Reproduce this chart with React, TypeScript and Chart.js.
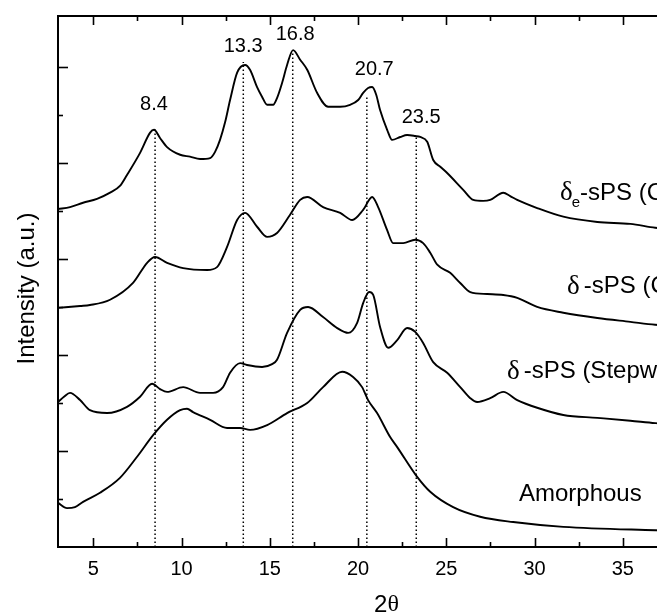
import React, { useEffect, useRef } from "react";
import { Chart, registerables } from "chart.js";

Chart.register(...registerables);

const W = 720;
const H = 615;
const FONT = '"Liberation Sans", Arial, Helvetica, sans-serif';
const SERIF = '"Liberation Serif", "DejaVu Serif", "Times New Roman", serif';

// ---- data: [2θ, intensity (a.u., stacked)] ----
const deltaE: [number, number][] = [
  [3.0, 7.04], [3.68, 7.08], [4.42, 7.17], [5.21, 7.25], [5.95, 7.38], [6.51, 7.52], [6.91, 7.75],
  [7.65, 8.21], [8.22, 8.63], [8.44, 8.69], [8.78, 8.52], [9.18, 8.33], [9.92, 8.17], [10.48, 8.13],
  [11.05, 8.08], [11.62, 8.1], [11.9, 8.23], [12.18, 8.48], [12.47, 8.85], [12.75, 9.31], [13.15, 9.88],
  [13.6, 10.04], [13.88, 9.94], [14.28, 9.58], [14.56, 9.38], [14.85, 9.21], [15.19, 9.21], [15.41, 9.35],
  [15.7, 9.67], [15.98, 10.04], [16.32, 10.35], [16.72, 10.15], [17.12, 9.94], [17.68, 9.46], [18.31, 9.17],
  [18.99, 9.17], [19.55, 9.21], [20.01, 9.31], [20.29, 9.46], [20.57, 9.56], [20.8, 9.58], [21.03, 9.42],
  [21.25, 9.1], [21.65, 8.69], [21.93, 8.48], [22.39, 8.54], [22.78, 8.58], [23.24, 8.56], [23.52, 8.54],
  [23.92, 8.44], [24.26, 8.06], [24.66, 7.92], [25.05, 7.79], [25.96, 7.44], [26.53, 7.23], [27.09, 7.21],
  [27.49, 7.23], [28.23, 7.38], [28.62, 7.31], [29.02, 7.23], [30.15, 7.06], [31.63, 6.88], [33.56, 6.77],
  [35.43, 6.73], [36.84, 6.65], [40.0, 6.55],
];

const deltaC: [number, number][] = [
  [3.0, 4.98], [4.25, 5.02], [4.81, 5.04], [5.95, 5.15], [7.25, 5.5], [8.05, 5.92], [8.5, 6.04],
  [9.18, 5.92], [10.09, 5.81], [11.45, 5.77], [12.01, 5.83], [12.58, 6.25], [13.15, 6.81], [13.6, 6.96],
  [14.28, 6.67], [14.85, 6.46], [15.41, 6.54], [16.15, 6.92], [16.72, 7.23], [17.12, 7.29], [18.02, 7.08],
  [18.99, 6.96], [19.67, 6.81], [20.29, 7.02], [20.8, 7.29], [21.14, 7.08], [21.65, 6.6], [21.99, 6.33],
  [22.56, 6.33], [23.24, 6.4], [23.69, 6.33], [24.09, 6.13], [24.49, 5.88], [25.22, 5.71], [25.79, 5.5],
  [26.36, 5.31], [27.32, 5.27], [28.23, 5.25], [29.02, 5.19], [30.15, 5.0], [31.63, 4.88], [33.56, 4.77],
  [35.43, 4.69], [36.84, 4.63], [40.0, 4.55],
];

const deltaStep: [number, number][] = [
  [3.0, 3.02], [3.34, 3.13], [3.68, 3.21], [4.25, 3.06], [4.81, 2.85], [5.78, 2.79], [6.91, 2.92],
  [7.65, 3.13], [8.33, 3.4], [8.78, 3.29], [9.18, 3.23], [10.09, 3.33], [11.05, 3.21], [11.79, 3.21],
  [12.35, 3.33], [12.75, 3.63], [13.32, 3.83], [13.71, 3.79], [14.56, 3.75], [15.13, 3.81], [15.41, 3.9],
  [15.98, 4.46], [16.72, 4.94], [17.17, 5.0], [18.02, 4.79], [18.82, 4.56], [19.44, 4.46], [19.95, 4.67],
  [20.29, 5.08], [20.63, 5.31], [20.86, 5.25], [21.25, 4.58], [21.71, 4.15], [22.22, 4.31], [22.78, 4.56],
  [23.24, 4.48], [23.69, 4.25], [24.26, 3.85], [25.05, 3.63], [25.79, 3.33], [26.36, 3.1], [26.75, 3.02],
  [27.49, 3.1], [28.23, 3.23], [29.02, 3.06], [30.15, 2.9], [31.63, 2.75], [33.56, 2.69], [35.43, 2.63],
  [36.84, 2.58], [40.0, 2.5],
];

const amorphous: [number, number][] = [
  [3.0, 0.92], [3.51, 0.81], [3.96, 0.83], [4.42, 0.94], [5.38, 1.13], [6.51, 1.44], [7.48, 1.88],
  [8.39, 2.33], [9.18, 2.65], [9.92, 2.85], [10.31, 2.88], [10.65, 2.81], [11.62, 2.65], [12.58, 2.48],
  [13.32, 2.48], [13.88, 2.44], [14.85, 2.54], [15.98, 2.79], [17.12, 3.0], [18.02, 3.33], [19.1, 3.65],
  [19.72, 3.54], [20.23, 3.33], [20.57, 3.06], [21.08, 2.79], [21.82, 2.29], [22.22, 2.08], [23.35, 1.46],
  [24.09, 1.15], [25.39, 0.83], [26.92, 0.63], [28.79, 0.52], [31.63, 0.42], [36.84, 0.35], [40.0, 0.32],
];

// peak markers
const peakPositions = [8.5, 13.5, 16.3, 20.5, 23.3];
const peakLineTops = [8.75, 10.1, 10.31, 9.375, 8.54];
const peakLabels = ["8.4", "13.3", "16.8", "20.7", "23.5"];
const peakLabelX = [8.44, 13.49, 16.44, 20.92, 23.58];
const peakLabelY = [9.21, 10.42, 10.67, 9.94, 8.94];

// curve labels
const curveLabelSub = ["e", "", "", ""];
const curveLabelText = ["-sPS (Clathrate)", "-sPS (Chloroform)", "-sPS (Stepwise)", "Amorphous"];
const curveLabelDelta = [true, true, true, false];
const curveLabelX = [31.44, 31.84, 28.44, 29.12];
const curveLabelY = [7.375, 5.42, 3.65, 1.1];

// axes
const xMin = 3;
const xMax = 40;
const yMin = 0;
const yMax = 11.06;
const xLabelTicks = [5, 10, 15, 20, 25, 30, 35];
const xMajorTicks = [5, 10, 15, 20, 25, 30, 35, 40];
const xMinorTicks = [7.5, 12.5, 17.5, 22.5, 27.5, 32.5, 37.5];
const yMajorTicks = [2, 4, 6, 8, 10];
const yMinorTicks = [1, 3, 5, 7, 9];
const xTitle = ["2", "θ"];
const yTitle = "Intensity (a.u.)";

const decor = {
  id: "decor",
  afterDraw(chart: any) {
    const { ctx, chartArea: a, scales } = chart;
    const xs = scales.x;
    const ys = scales.y;
    ctx.save();
    ctx.strokeStyle = "#000";
    ctx.fillStyle = "#000";
    ctx.lineWidth = 2;
    ctx.strokeRect(a.left, a.top, a.right - a.left, a.bottom - a.top);

    ctx.lineWidth = 1.6;
    const vt = (v: number, len: number) => {
      const px = Math.round(xs.getPixelForValue(v)) + 0.5;
      ctx.beginPath();
      ctx.moveTo(px, a.bottom);
      ctx.lineTo(px, a.bottom - len);
      ctx.moveTo(px, a.top);
      ctx.lineTo(px, a.top + len);
      ctx.stroke();
    };
    xMajorTicks.forEach((v) => vt(v, 9));
    xMinorTicks.forEach((v) => vt(v, 5));
    const ht = (v: number, len: number) => {
      const py = Math.round(ys.getPixelForValue(v)) + 0.5;
      ctx.beginPath();
      ctx.moveTo(a.left, py);
      ctx.lineTo(a.left + len, py);
      ctx.stroke();
    };
    yMajorTicks.forEach((v) => ht(v, 10));
    yMinorTicks.forEach((v) => ht(v, 5));

    // peak labels
    ctx.textBaseline = "middle";
    ctx.textAlign = "center";
    ctx.font = `20px ${FONT}`;
    peakLabels.forEach((t, i) => {
      ctx.fillText(t, xs.getPixelForValue(peakLabelX[i]), ys.getPixelForValue(peakLabelY[i]));
    });

    // curve labels
    ctx.textAlign = "left";
    curveLabelText.forEach((t, i) => {
      let x = xs.getPixelForValue(curveLabelX[i]);
      const y = ys.getPixelForValue(curveLabelY[i]);
      if (curveLabelDelta[i]) {
        ctx.font = `27px ${SERIF}`;
        ctx.fillText("δ", x, y);
        x += ctx.measureText("δ").width;
        if (curveLabelSub[i]) {
          ctx.font = `15px ${FONT}`;
          ctx.fillText(curveLabelSub[i], x - 1, y + 10);
          x += ctx.measureText(curveLabelSub[i]).width - 1;
        } else {
          x += 4;
        }
      }
      ctx.font = `24px ${FONT}`;
      ctx.fillText(t, x, y);
    });

    // x title
    const cx = (a.left + a.right) / 2 + 2;
    ctx.font = `24px ${FONT}`;
    const w1 = ctx.measureText(xTitle[0]).width;
    ctx.font = `24px ${SERIF}`;
    const w2 = ctx.measureText(xTitle[1]).width;
    const sx = cx - (w1 + w2) / 2;
    ctx.font = `24px ${FONT}`;
    ctx.fillText(xTitle[0], sx, 605);
    ctx.font = `24px ${SERIF}`;
    ctx.fillText(xTitle[1], sx + w1, 605);

    // y title
    ctx.save();
    ctx.translate(27, (a.top + a.bottom) / 2 + 7);
    ctx.rotate(-Math.PI / 2);
    ctx.textAlign = "center";
    ctx.font = `24px ${FONT}`;
    ctx.fillText(yTitle, 0, 0);
    ctx.restore();

    ctx.restore();
  },
};

export default function App() {
  const ref = useRef<HTMLCanvasElement>(null);
  useEffect(() => {
    const canvas = ref.current;
    if (!canvas) return;
    const series = [deltaE, deltaC, deltaStep, amorphous];
    const curveSets = series.map((d) => ({
      data: d.map(([x, y]) => ({ x, y })),
      borderColor: "#000",
      borderWidth: 1.9,
      pointRadius: 0,
      cubicInterpolationMode: "monotone" as const,
      fill: false,
    }));
    const dotSets = peakPositions.map((p, i) => ({
      data: [
        { x: p, y: yMin },
        { x: p, y: peakLineTops[i] },
      ],
      borderColor: "#000",
      borderWidth: 1.5,
      borderDash: [1.5, 2.5],
      pointRadius: 0,
      fill: false,
    }));
    const chart = new Chart(canvas, {
      type: "line",
      data: { datasets: [...dotSets, ...curveSets] as any },
      options: {
        responsive: false,
        animation: false,
        devicePixelRatio: 1,
        events: [],
        layout: { autoPadding: false, padding: { top: 16, right: W - 711, left: 0, bottom: 0 } },
        plugins: { legend: { display: false }, tooltip: { enabled: false } },
        scales: {
          x: {
            type: "linear",
            min: xMin,
            max: xMax,
            grid: { display: false, drawTicks: false },
            border: { display: false },
            afterBuildTicks: (s: any) => {
              s.ticks = xLabelTicks.map((v) => ({ value: v }));
            },
            afterFit: (s: any) => {
              s.height = H - 547;
              s.paddingLeft = 0;
              s.paddingRight = 0;
            },
            ticks: {
              font: { family: FONT, size: 20 },
              color: "#000",
              padding: 10,
              maxRotation: 0,
              autoSkip: false,
              callback: (v: any) => String(v),
            },
          },
          y: {
            type: "linear",
            min: yMin,
            max: yMax,
            grid: { display: false, drawTicks: false },
            border: { display: false },
            ticks: { display: false },
            afterFit: (s: any) => {
              s.width = 58;
            },
          },
        },
      } as any,
      plugins: [decor],
    });
    return () => chart.destroy();
  }, []);
  return (
    <div
      style={{
        position: "fixed",
        left: 0,
        top: 0,
        width: 657,
        height: 615,
        overflow: "hidden",
        background: "#fff",
      }}
    >
      <canvas ref={ref} width={W} height={H} style={{ display: "block", width: W, height: H }} />
    </div>
  );
}
